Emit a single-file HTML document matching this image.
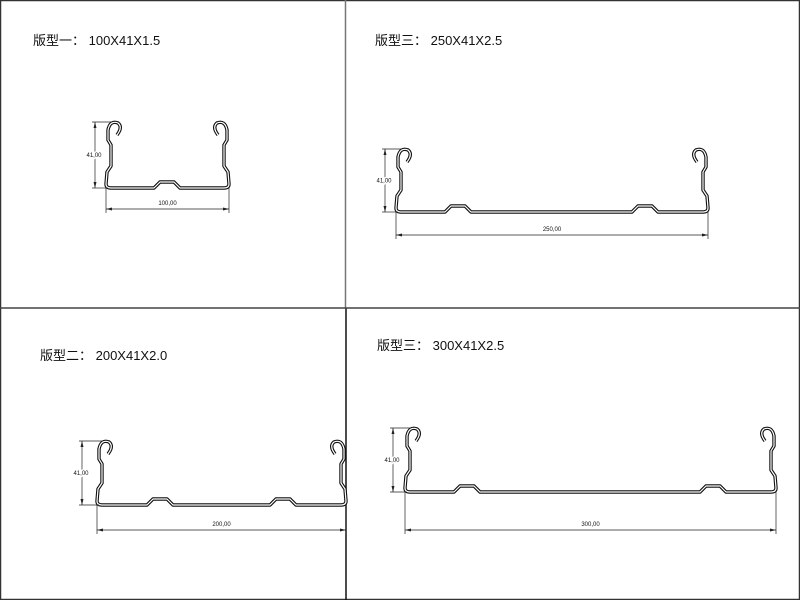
<!DOCTYPE html>
<html><head><meta charset="utf-8"><style>
body{margin:0;background:#fff}
svg{display:block}
text{font-family:"Liberation Sans","Noto Sans CJK SC",sans-serif;fill:#111}
.t{font-size:13px}
.d{font-size:6px}
</style></head><body>
<svg id="s" width="800" height="600" viewBox="0 0 800 600">
<rect x="0.5" y="0.5" width="799" height="599" fill="none" stroke="#333" stroke-width="1.5"/>
<line x1="345.5" y1="0" x2="345.5" y2="308" stroke="#777" stroke-width="1.5"/>
<line x1="346" y1="308" x2="346" y2="600" stroke="#111" stroke-width="1.5"/>
<line x1="0" y1="308" x2="800" y2="308" stroke="#444" stroke-width="1.5"/>
<text class="t" x="33" y="45">版型一：  100X41X1.5</text>
<text class="t" x="375" y="45">版型三：  250X41X2.5</text>
<text class="t" x="40" y="360">版型二：  200X41X2.0</text>
<text class="t" x="377" y="350">版型三：  300X41X2.5</text>
<g id="g"></g>
</svg>
<script>
var g=document.getElementById('g'),h='';
function prof(L,R,T,B,bumps,dx,dy,lab){
 var p='M'+(L+11)+','+(T+13)+' Q'+(L+17)+','+(T+5)+' '+(L+12)+','+(T+1)+' Q'+(L+4)+','+(T-2)+' '+(L+2)+','+(T+8)+
 ' L'+(L+2)+','+(T+18)+' L'+(L+5)+','+(T+23)+' L'+(L+5)+','+(B-22)+' L'+(L+1)+','+(B-16)+' L'+L+','+(B-4)+' Q'+L+','+B+' '+(L+5)+','+B;
 bumps.forEach(function(b){p+=' L'+b+','+B+' L'+(b+6)+','+(B-6)+' L'+(b+20)+','+(B-6)+' L'+(b+26)+','+B;});
 p+=' L'+(R-5)+','+B+' Q'+R+','+B+' '+R+','+(B-4)+' L'+(R-1)+','+(B-16)+' L'+(R-5)+','+(B-22)+' L'+(R-5)+','+(T+23)+' L'+(R-2)+','+(T+18)+' L'+(R-2)+','+(T+8)+
 ' Q'+(R-4)+','+(T-2)+' '+(R-12)+','+(T+1)+' Q'+(R-17)+','+(T+5)+' '+(R-11)+','+(T+13);
 h+='<path d="'+p+'" fill="none" stroke="#111" stroke-width="3.4" stroke-linejoin="round"/><path d="'+p+'" fill="none" stroke="#fff" stroke-width="1.2" stroke-linejoin="round"/>';
 // vertical dimension
 h+='<line x1="'+(dx-3)+'" y1="'+T+'" x2="'+(L+6)+'" y2="'+T+'" stroke="#222" stroke-width="0.7"/>';
 h+='<line x1="'+(dx-3)+'" y1="'+B+'" x2="'+(L+2)+'" y2="'+B+'" stroke="#222" stroke-width="0.7"/>';
 h+='<line x1="'+dx+'" y1="'+T+'" x2="'+dx+'" y2="'+B+'" stroke="#222" stroke-width="0.7"/>';
 h+='<path d="M'+dx+','+T+' l-1.5,6 h3z M'+dx+','+B+' l-1.5,-6 h3z" fill="#222"/>';
 h+='<text class="d" x="'+(dx-1)+'" y="'+((T+B)/2+2)+'" text-anchor="middle" style="paint-order:stroke;stroke:#fff;stroke-width:3px">41,00</text>';
 // horizontal dimension
 h+='<line x1="'+L+'" y1="'+B+'" x2="'+L+'" y2="'+(dy+4)+'" stroke="#222" stroke-width="0.7"/>';
 h+='<line x1="'+R+'" y1="'+B+'" x2="'+R+'" y2="'+(dy+4)+'" stroke="#222" stroke-width="0.7"/>';
 h+='<line x1="'+L+'" y1="'+dy+'" x2="'+R+'" y2="'+dy+'" stroke="#222" stroke-width="0.7"/>';
 h+='<path d="M'+L+','+dy+' l6,-1.5 v3z M'+R+','+dy+' l-6,-1.5 v3z" fill="#222"/>';
 h+='<text class="d" x="'+((L+R)/2)+'" y="'+(dy-4)+'" text-anchor="middle">'+lab+'</text>';
}
prof(106,229,122,188,[154],95,209,'100,00');
prof(396,708,149,212,[445,632],385,235,'250,00');
prof(97,346,441,505,[147,270],82,530,'200,00');
prof(405,776,428,492,[454,700],393,530,'300,00');
g.innerHTML=h;
</script>
</body></html>
